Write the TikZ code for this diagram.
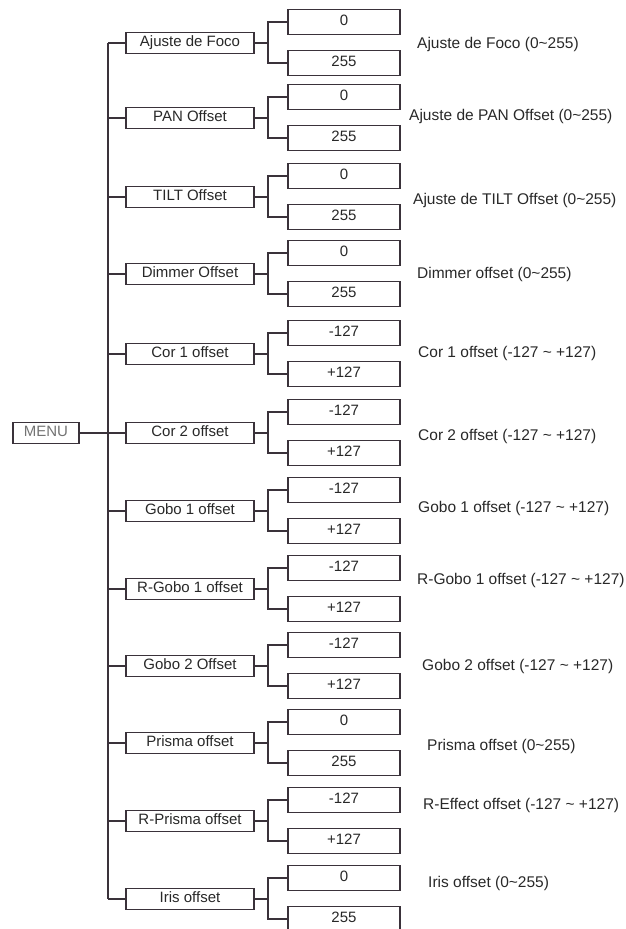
\documentclass[tikz,border=0pt]{standalone}
\usepackage{fontspec}
\setmainfont{Liberation Sans}
\definecolor{ink}{RGB}{58,50,58}
\definecolor{txt}{RGB}{40,40,40}
\tikzset{
  line/.style={draw=ink, line width=1.25pt},
  boxbase/.style={draw=ink, line width=1.25pt, fill=white, inner sep=0pt,
    text height=10.8pt, text depth=3.2pt, font=\fontsize{15}{18}\selectfont},
  menubox/.style={boxbase, minimum width=66pt, minimum height=21pt, text=txt!65},
  itembox/.style={boxbase, minimum width=128pt, minimum height=21pt, text=txt},
  valbox/.style={boxbase, minimum width=112pt, minimum height=25pt, text=txt},
  note/.style={anchor=west, inner sep=0pt, text height=10.8pt, text depth=3.2pt,
    font=\fontsize{15.5}{18}\selectfont, text=txt}
}
\begin{document}
\begin{tikzpicture}[x=1pt,y=-1pt]
\useasboundingbox (0,0) rectangle (625,929);

% root of the menu tree
\node[menubox] (menu) at (46,433) {MENU};

% one group per menu entry: entry box, its two value boxes and the range note
\foreach \i/\c/\name/\lo/\hi/\lx/\ly/\desc in {
  1/43/Ajuste de Foco/0/255/417/45/Ajuste de Foco (0\textasciitilde255),
  2/118/PAN Offset/0/255/409/117/Ajuste de PAN Offset (0\textasciitilde255),
  3/197/TILT Offset/0/255/413/201/Ajuste de TILT Offset (0\textasciitilde255),
  4/274/Dimmer Offset/0/255/417/275/Dimmer offset (0\textasciitilde255),
  5/354/Cor 1 offset/-127/+127/418/354/Cor 1 offset (-127 \textasciitilde{} +127),
  6/433/Cor 2 offset/-127/+127/418/437/Cor 2 offset (-127 \textasciitilde{} +127),
  7/511/Gobo 1 offset/-127/+127/418/509/Gobo 1 offset (-127 \textasciitilde{} +127),
  8/589/R-Gobo 1 offset/-127/+127/417/581/R-Gobo 1 offset (-127 \textasciitilde{} +127),
  9/666/Gobo 2 Offset/-127/+127/422/667/Gobo 2 offset (-127 \textasciitilde{} +127),
  10/743/Prisma offset/0/255/427/747/Prisma offset (0\textasciitilde255),
  11/821/R-Prisma offset/-127/+127/423/806/R-Effect offset (-127 \textasciitilde{} +127),
  12/899/Iris offset/0/255/428/884/Iris offset (0\textasciitilde255)}
{
  \node[itembox] (m\i) at (190,\c) {\name};
  \node[valbox] (t\i) at (344,\c-21) {\lo};
  \node[valbox] (b\i) at (344,\c+20) {\hi};
  \node[note] (n\i) at (\lx,\ly) {\desc};
  \coordinate (j\i) at (108,\c);
  \coordinate (f\i) at (268,\c);
  \draw[line] (j\i) -- (m\i.west);
  \draw[line] (m\i.east) -- (f\i);
  \draw[line] (t\i.west) -| (f\i) |- (b\i.west);
}

% trunk and link from the root
\draw[line] (j1) -- (j12);
\draw[line] (menu.east) -- (j6);
\end{tikzpicture}
\end{document}
